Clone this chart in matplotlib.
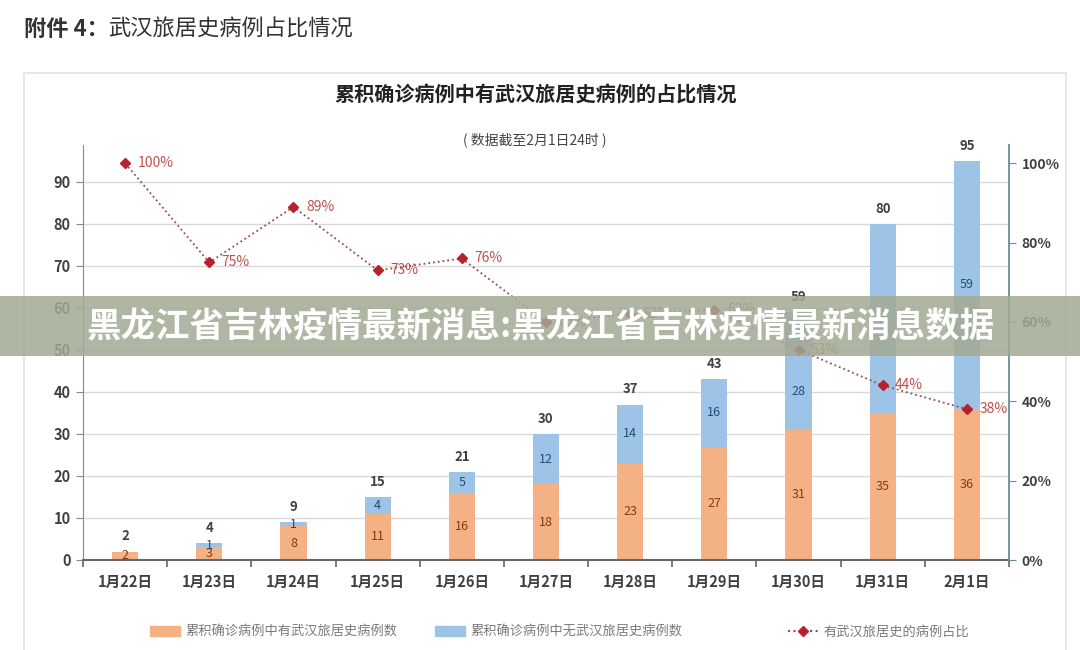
import matplotlib
matplotlib.use("Agg")
import matplotlib.pyplot as plt
import numpy as np
from matplotlib.patches import Rectangle, Patch
from matplotlib.lines import Line2D
from matplotlib.ticker import FixedLocator, FuncFormatter

plt.rcParams["font.family"] = ["Noto Sans CJK SC", "DejaVu Sans"]

dates = ["1月22日", "1月23日", "1月24日", "1月25日", "1月26日", "1月27日",
         "1月28日", "1月29日", "1月30日", "1月31日", "2月1日"]
with_wuhan = [2, 3, 8, 11, 16, 18, 23, 27, 31, 35, 36]
without_wuhan = [0, 1, 1, 4, 5, 12, 14, 16, 28, 45, 59]
totals = [2, 4, 9, 15, 21, 30, 37, 43, 59, 80, 95]
share = [100, 75, 89, 73, 76, 60, 62, 63, 53, 44, 38]

ORANGE, BLUE = "#f4b183", "#9dc3e6"
LINE, MARK, PCT = "#9a4a4a", "#b8202e", "#c0504d"
W, H = 1080, 650

fig = plt.figure(figsize=(10.8, 6.5), dpi=100)
fig.patch.set_facecolor("white")

# panel frame
fig.add_artist(Rectangle((24 / W, -0.05), (1066 - 24) / W, 1 - 73 / H + 0.05,
                         transform=fig.transFigure, fill=False,
                         edgecolor="#e2e2e2", lw=1.2, zorder=1))

fig.text(24 / W, 1 - 29 / H, "附件 4：", fontsize=16, weight="bold",
         color="#333333", va="center", ha="left")
fig.text(108 / W, 1 - 29 / H, "武汉旅居史病例占比情况", fontsize=16,
         color="#333333", va="center", ha="left")
fig.text(536 / W, 1 - 95 / H, "累积确诊病例中有武汉旅居史病例的占比情况",
         fontsize=14.5, weight="bold", color="#222222", ha="center", va="center")
fig.text(535 / W, 1 - 140 / H, "( 数据截至2月1日24时 )", fontsize=10,
         color="#444444", ha="center", va="center")

ax = fig.add_axes([83 / W, 1 - 560 / H, (1009 - 83) / W, (560 - 145) / H])
x = np.arange(len(dates))
wid = 0.31
ax.bar(x, with_wuhan, width=wid, color=ORANGE, zorder=2)
ax.bar(x, without_wuhan, bottom=with_wuhan, width=wid, color=BLUE, zorder=2)

for i in range(len(dates)):
    ax.text(x[i], with_wuhan[i] / 2, str(with_wuhan[i]), ha="center", va="center",
            fontsize=9, color="#843c0c", zorder=3)
    if without_wuhan[i]:
        yb = with_wuhan[i] + without_wuhan[i] / 2
        if i == 8:
            yb -= 5
        ax.text(x[i], yb, str(without_wuhan[i]), ha="center", va="center",
                fontsize=9, color="#1f4e79", zorder=3)
    ax.annotate(str(totals[i]), (x[i], totals[i]), xytext=(0, 11),
                textcoords="offset points", ha="center", va="center",
                fontsize=9.5, weight="bold", color="#404040")

ax.set_xlim(-0.5, len(dates) - 0.5)
ax.set_ylim(0, 98.8)
ax.set_yticks(range(0, 100, 10))
ax.yaxis.grid(True, color="#d9d9d9", lw=1)
ax.set_axisbelow(True)
ax.set_xticks(x)
ax.set_xticklabels(dates)
ax.xaxis.set_minor_locator(FixedLocator(np.arange(-0.5, len(dates), 1.0)))
ax.tick_params(axis="x", which="major", length=0, pad=10)
ax.tick_params(axis="x", which="minor", length=5, width=1.2, color="#666666")
ax.tick_params(axis="y", length=5, color="#7f8c8d", pad=4)
for lab in ax.get_xticklabels() + ax.get_yticklabels():
    lab.set_fontsize(10.5)
    lab.set_fontweight("bold")
    lab.set_color("#404040")
ax.spines["top"].set_visible(False)
ax.spines["right"].set_visible(False)
ax.spines["left"].set_color("#7f8c8d")
ax.spines["bottom"].set_color("#666666")
ax.spines["bottom"].set_linewidth(1.5)

ax2 = ax.twinx()
ax2.plot(x, share, ls=":", lw=1.3, color=LINE, marker="D", markersize=5,
         markerfacecolor=MARK, markeredgecolor=MARK, zorder=4)
for i, v in enumerate(share):
    ax2.annotate(f"{v}%", (x[i], v), xytext=(9, 0), textcoords="offset points",
                 ha="left", va="center", fontsize=10, color=PCT)
ax2.set_ylim(0, 104.6)
ax2.set_yticks(range(0, 101, 20))
ax2.yaxis.set_major_formatter(FuncFormatter(lambda v, p: f"{v:.0f}%"))
ax2.tick_params(axis="y", length=5, color="#6d8b9a", pad=4)
for lab in ax2.get_yticklabels():
    lab.set_fontsize(10)
    lab.set_fontweight("bold")
    lab.set_color("#404040")
ax2.spines["top"].set_visible(False)
ax2.spines["left"].set_visible(False)
ax2.spines["bottom"].set_visible(False)
ax2.spines["right"].set_color("#6d8b9a")
ax2.spines["right"].set_linewidth(1.3)

# legend: three separate entries, placed like the Excel legend
handles = [Patch(color=ORANGE), Patch(color=BLUE),
           Line2D([], [], ls=":", color=LINE, marker="D", markersize=5,
                  markerfacecolor=MARK, markeredgecolor=MARK)]
labels = ["累积确诊病例中有武汉旅居史病例数", "累积确诊病例中无武汉旅居史病例数",
          "有武汉旅居史的病例占比"]
for h, lab, x0 in zip(handles, labels, [150, 435, 788]):
    leg = fig.legend([h], [lab], loc="center left", bbox_to_anchor=(x0 / W, 1 - 632 / H),
                     frameon=False, fontsize=9.5, handlelength=2.3, handleheight=0.8,
                     handletextpad=0.4, borderpad=0, borderaxespad=0)
    for t in leg.get_texts():
        t.set_color("#7a7a7a")

# overlay banner
fig.add_artist(Rectangle((0, 1 - 356 / H), 1, 60 / H, transform=fig.transFigure,
                         facecolor="#a3aa94", alpha=0.85, edgecolor="none", zorder=10))
fig.text(541 / W, 1 - 327 / H, "黑龙江省吉林疫情最新消息:黑龙江省吉林疫情最新消息数据",
         fontsize=24.8, weight="bold", color="white", ha="center", va="center", zorder=11)

fig.savefig("out.png", dpi=100, facecolor="white")
